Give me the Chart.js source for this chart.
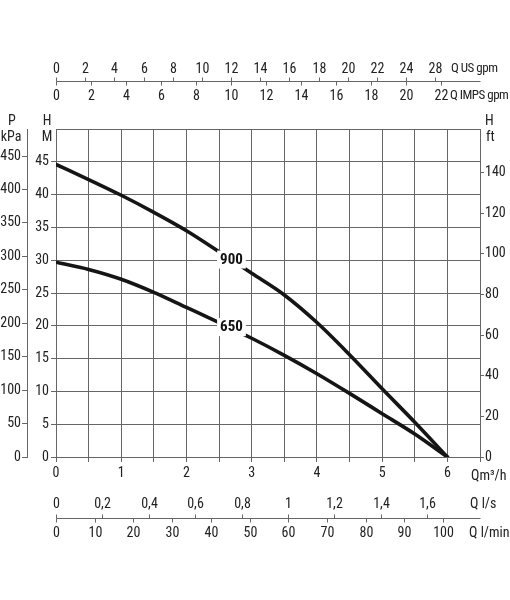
<!DOCTYPE html>
<html>
<head>
<meta charset="utf-8">
<script src="https://cdn.jsdelivr.net/npm/chart.js@4/dist/chart.umd.min.js"></script>
<style>
html,body{margin:0;padding:0;background:#fff;}
canvas{display:block;}
</style>
</head>
<body>
<canvas id="c" width="510" height="600"></canvas>
<script>
// ---------- data ----------
const flowQ   = [0, 0.5, 1, 1.5, 2, 2.5, 3, 3.5, 4, 4.5, 5, 5.5, 6];
const head900 = [44.6, 42.3, 39.9, 37.3, 34.5, 31.3, 28.0, 24.7, 20.5, 15.6, 10.4, 5.3, 0];
const head650 = [29.7, 28.6, 27.1, 25.1, 22.8, 20.5, 18.1, 15.5, 12.7, 9.7, 6.6, 3.5, 0];
const curveNames  = ['900', '650'];
const curveLabelQ = [2.69, 2.69];
const curveLabelH = [30.1, 19.8];

const qTicks   = [0, 0.5, 1, 1.5, 2, 2.5, 3, 3.5, 4, 4.5, 5, 5.5, 6, 6.5];
const qLabels  = ['0', '', '1', '', '2', '', '3', '', '4', '', '5', '', '6', ''];
const hmTicks  = [0, 5, 10, 15, 20, 25, 30, 35, 40, 45, 50];
const hmLabels = ['0', '5', '10', '15', '20', '25', '30', '35', '40', '45', ''];
const hftTicks = [0, 20, 40, 60, 80, 100, 120, 140];
const kpaTicks = [0, 50, 100, 150, 200, 250, 300, 350, 400, 450];

const usGpmTicks  = [0, 2, 4, 6, 8, 10, 12, 14, 16, 18, 20, 22, 24, 26];
const usGpmLabels = ['0', '2', '4', '6', '8', '10', '12', '14', '16', '18', '20', '22', '24', '28'];
const impGpmTicks = [0, 2, 4, 6, 8, 10, 12, 14, 16, 18, 20, 22];
const lsTicks  = [0, 0.2, 0.4, 0.6, 0.8, 1, 1.2, 1.4, 1.6];
const lsLabels = ['0', '0,2', '0,4', '0,6', '0,8', '1', '1,2', '1,4', '1,6'];
const lminTicks = [0, 10, 20, 30, 40, 50, 60, 70, 80, 90, 100];

// axis ranges
const qMax = 6.5, hmMax = 50, hftMax = 161.5, kpaMax = 490.5;
const usGpmMax = 29.07, impGpmMax = 24.23, lsMax = 1.827, lminMax = 109.5;

// ---------- styles ----------
const FONT = "'Roboto Condensed', Roboto, 'Liberation Sans', sans-serif";
const FSIZE = 14;
const GRID = '#666';
const TEXT = '#222';
Chart.defaults.font.family = FONT;
Chart.defaults.font.size = FSIZE;
Chart.defaults.color = TEXT;

const setTicks = arr => scale => { scale.ticks = arr.map(v => ({value: v})); };

const hiddenX = (max) => ({
  type: 'linear', display: false, min: 0, max: max, position: 'top'
});

const auxPlugin = {
  id: 'aux',
  afterDraw(chart) {
    const ctx = chart.ctx, s = chart.scales, a = chart.chartArea;
    ctx.save();
    ctx.strokeStyle = GRID; ctx.lineWidth = 1; ctx.fillStyle = TEXT;
    ctx.font = FSIZE + 'px ' + FONT;
    const L = Math.round(a.left) + 0.5, R = Math.round(a.right) + 0.5;
    const hline = y => { ctx.beginPath(); ctx.moveTo(L, y + 0.5); ctx.lineTo(R, y + 0.5); ctx.stroke(); };
    const row = (scale, vals, labels, yLine, dir, yText) => {
      ctx.textAlign = 'center'; ctx.textBaseline = 'middle';
      vals.forEach((v, i) => {
        const px = Math.round(scale.getPixelForValue(v)) + 0.5;
        ctx.beginPath(); ctx.moveTo(px, yLine + 0.5); ctx.lineTo(px, yLine + 0.5 + dir * 4); ctx.stroke();
        ctx.fillText(labels[i], px, yText);
      });
    };
    // top flow axes
    const yTop = Math.round(a.top) - 48;
    hline(yTop);
    row(s.xUs, usGpmTicks, usGpmLabels, yTop, -1, yTop - 12);
    row(s.xImp, impGpmTicks, impGpmTicks.map(String), yTop, 1, yTop + 15);
    ctx.textAlign = 'left';
    ctx.font = '13px ' + FONT;
    if ('letterSpacing' in ctx) ctx.letterSpacing = '-0.5px';
    ctx.fillText('Q US gpm', 451, yTop - 12);
    ctx.fillText('Q IMPS gpm', 450, yTop + 15);
    if ('letterSpacing' in ctx) ctx.letterSpacing = '0px';
    ctx.font = FSIZE + 'px ' + FONT;
    // bottom flow axes
    const yBot = Math.round(a.bottom) + 61;
    hline(yBot);
    row(s.xLs, lsTicks, lsLabels, yBot, -1, yBot - 14);
    row(s.xLmin, lminTicks, lminTicks.map(String), yBot, 1, yBot + 15);
    ctx.textAlign = 'left';
    ctx.fillText('Q l/s', 470, yBot - 14);
    ctx.fillText('Q l/min', 469, yBot + 15);
    ctx.fillText('Qm\u00b3/h', 471, Math.round(a.bottom) + 19);
    // axis titles
    ctx.textAlign = 'center';
    ctx.fillText('P', 12, a.top - 8);
    ctx.fillText('kPa', 11, a.top + 8);
    ctx.fillText('H', 47, a.top - 8);
    ctx.fillText('M', 47, a.top + 8);
    ctx.textAlign = 'left';
    ctx.fillText('H', 485, a.top - 8);
    ctx.fillText('ft', 486, a.top + 8);
    ctx.restore();
  },
  afterDatasetsDraw(chart) {
    const ctx = chart.ctx, s = chart.scales;
    ctx.save();
    ctx.font = 'bold 15px ' + FONT;
    ctx.textAlign = 'center'; ctx.textBaseline = 'middle';
    curveNames.forEach((name, i) => {
      const px = s.x.getPixelForValue(curveLabelQ[i]);
      const py = s.y.getPixelForValue(curveLabelH[i]);
      const w = ctx.measureText(name).width + 6;
      ctx.fillStyle = '#fff';
      ctx.fillRect(px - w / 2, py - 9, w, 18);
      ctx.fillStyle = '#111';
      ctx.fillText(name, px, py + 0.5);
    });
    ctx.restore();
  }
};

new Chart(document.getElementById('c'), {
  type: 'line',
  data: {
    datasets: [
      { label: '900', data: flowQ.map((q, i) => ({x: q, y: head900[i]})) },
      { label: '650', data: flowQ.map((q, i) => ({x: q, y: head650[i]})) }
    ]
  },
  options: {
    responsive: false,
    animation: false,
    layout: { padding: { top: 129, bottom: 113, left: 0, right: 0 } },
    elements: {
      point: { radius: 0 },
      line: { borderColor: '#151515', borderWidth: 3.6, cubicInterpolationMode: 'monotone', fill: false, borderCapStyle: 'round' }
    },
    plugins: { legend: { display: false }, tooltip: { enabled: false } },
    scales: {
      x: {
        type: 'linear', position: 'bottom', min: 0, max: qMax,
        afterBuildTicks: setTicks(qTicks),
        afterFit: sc => { sc.height = 30; },
        ticks: { autoSkip: false, maxRotation: 0, padding: 3, callback: (v, i) => qLabels[i] },
        grid: { color: GRID, tickColor: GRID, tickLength: 5, lineWidth: 1 },
        border: { display: true, color: GRID }
      },
      y: {
        type: 'linear', position: 'left', weight: 0, min: 0, max: hmMax,
        afterBuildTicks: setTicks(hmTicks),
        afterFit: sc => { sc.width = 29; },
        ticks: { autoSkip: false, padding: 2, callback: (v, i) => hmLabels[i] },
        grid: { color: GRID, tickLength: 5, lineWidth: 1,
                tickColor: c => (c.tick && c.tick.value === hmMax) ? 'rgba(0,0,0,0)' : GRID },
        border: { display: true, color: GRID }
      },
      yKpa: {
        type: 'linear', position: 'left', weight: 1, min: 0, max: kpaMax,
        afterBuildTicks: setTicks(kpaTicks),
        afterFit: sc => { sc.width = 27; },
        ticks: { autoSkip: false, padding: 1 },
        grid: { drawOnChartArea: false, color: GRID, tickColor: GRID, tickLength: 5 },
        border: { display: true, color: GRID }
      },
      yFt: {
        type: 'linear', position: 'right', min: 0, max: hftMax,
        afterBuildTicks: setTicks(hftTicks),
        afterFit: sc => { sc.width = 30; },
        ticks: { autoSkip: false, padding: 1 },
        grid: { drawOnChartArea: false, color: GRID, tickColor: GRID, tickLength: 4 },
        border: { display: true, color: GRID }
      },
      xUs: hiddenX(usGpmMax),
      xImp: hiddenX(impGpmMax),
      xLs: hiddenX(lsMax),
      xLmin: hiddenX(lminMax)
    }
  },
  plugins: [auxPlugin]
});
</script>
</body>
</html>
